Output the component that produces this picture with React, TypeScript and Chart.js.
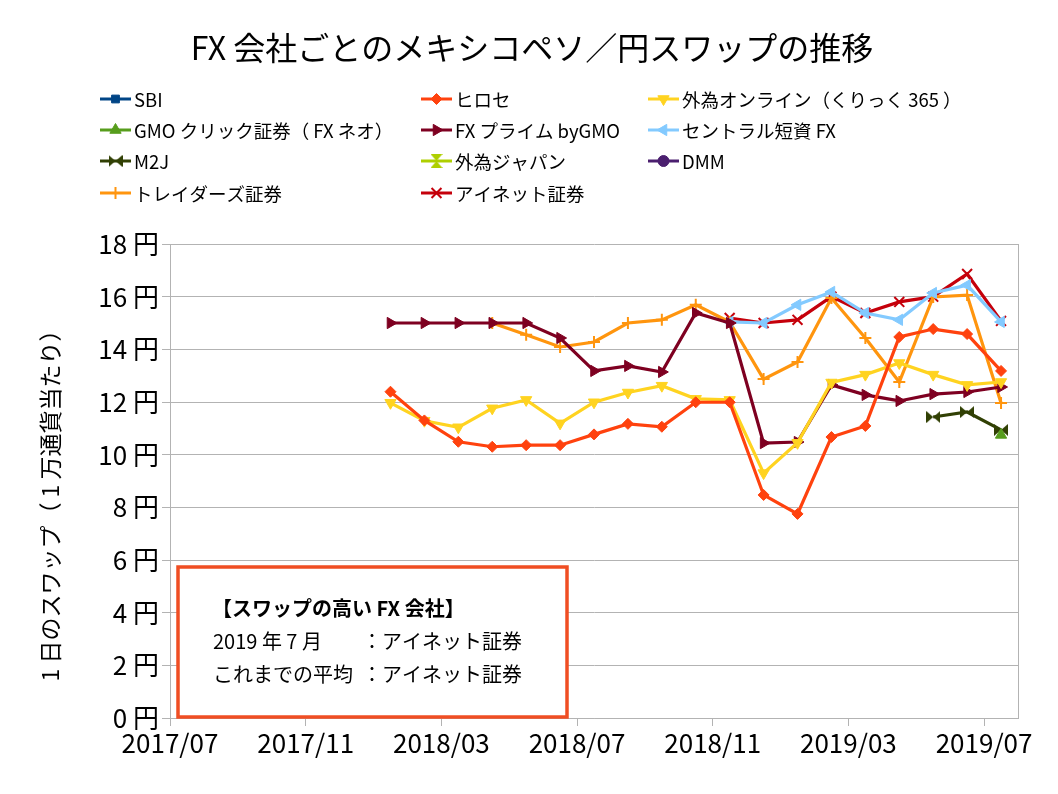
import { useEffect, useRef } from 'react';
import { Chart, registerables } from 'chart.js';
import { drawPoint } from 'chart.js/helpers';

Chart.register(...registerables);

// months with data (points sit mid-month)
const months = [
  '2018/01', '2018/02', '2018/03', '2018/04', '2018/05', '2018/06', '2018/07', '2018/08', '2018/09', '2018/10',
  '2018/11', '2018/12', '2019/01', '2019/02', '2019/03', '2019/04', '2019/05', '2019/06', '2019/07',
];
const tickLabels = ['2017/07', '2017/11', '2018/03', '2018/07', '2018/11', '2019/03', '2019/07'];
const yTicks = [0, 2, 4, 6, 8, 10, 12, 14, 16, 18];

const sbi: (number | null)[] = [];
const hirose = [12.39, 11.3, 10.49, 10.3, 10.36, 10.36, 10.77, 11.17, 11.06, 11.99, 11.99, 8.47, 7.75, 10.67, 11.09, 14.47, 14.77, 14.58, 13.18];
const gaitameOnline = [11.97, 11.29, 11.04, 11.76, 12.08, 11.19, 11.99, 12.36, 12.62, 12.12, 12.08, 9.3, 10.45, 12.74, 13.04, 13.48, 13.04, 12.65, 12.76];
const gmoClick = [null, null, null, null, null, null, null, null, null, null, null, null, null, null, null, null, null, null, 10.75];
const fxPrime = [15.0, 15.0, 15.0, 15.0, 15.0, 14.43, 13.18, 13.37, 13.14, 15.38, 15.0, 10.44, 10.48, 12.65, 12.27, 12.04, 12.3, 12.38, 12.57];
const central = [null, null, null, null, null, null, null, null, null, null, 15.04, 15.0, 15.69, 16.18, 15.38, 15.12, 16.14, 16.44, 15.04];
const m2j = [null, null, null, null, null, null, null, null, null, null, null, null, null, null, null, null, 11.43, 11.62, 10.94];
const gaitameJapan: (number | null)[] = [];
const dmm: (number | null)[] = [];
const traders = [null, null, null, 15.0, 14.55, 14.09, 14.28, 15.0, 15.12, 15.69, 15.04, 12.87, 13.52, 15.95, 14.43, 12.76, 15.99, 16.06, 11.96];
const inet = [null, null, null, null, null, null, null, null, null, null, 15.19, 15.0, 15.12, 16.0, 15.38, 15.8, 16.0, 16.86, 15.08];

const FONT = '"Noto Sans CJK JP", "Noto Sans", sans-serif';

function monthIndex(label: string) {
  const [y, m] = label.split('/').map(Number);
  return (y - 2017) * 12 + (m - 7);
}

function toPoints(values: (number | null)[]) {
  return months.map((m, i) => ({ x: monthIndex(m) + 0.5, y: values[i] ?? null }));
}

function bowtie(color: string) {
  const c = document.createElement('canvas');
  c.width = 14;
  c.height = 12;
  const g = c.getContext('2d')!;
  g.fillStyle = color;
  g.beginPath();
  g.moveTo(0, 0);
  g.lineTo(7, 6);
  g.lineTo(0, 12);
  g.closePath();
  g.moveTo(14, 0);
  g.lineTo(7, 6);
  g.lineTo(14, 12);
  g.closePath();
  g.fill();
  return c;
}

export default function App() {
  const chartRef = useRef<HTMLCanvasElement>(null);
  const chartInstance = useRef<Chart | null>(null);

  useEffect(() => {
    if (!chartRef.current) return;
    const ctx = chartRef.current.getContext('2d');
    if (!ctx) return;
    if (chartInstance.current) chartInstance.current.destroy();

    const series: any[] = [
      { label: 'SBI', data: sbi, color: '#004586', pointStyle: 'rect', rotation: 0, radius: 5.5 },
      { label: 'ヒロセ', data: hirose, color: '#FF420E', pointStyle: 'rectRot', rotation: 0, radius: 5.5 },
      { label: '外為オンライン（くりっく 365 ）', data: gaitameOnline, color: '#FFD320', pointStyle: 'triangle', rotation: 180, radius: 6.5 },
      { label: 'GMO クリック証券（ FX ネオ）', data: gmoClick, color: '#579D1C', pointStyle: 'triangle', rotation: 0, radius: 6.5 },
      { label: 'FX プライム byGMO', data: fxPrime, color: '#7E0021', pointStyle: 'triangle', rotation: 90, radius: 6.5 },
      { label: 'セントラル短資 FX', data: central, color: '#83CAFF', pointStyle: 'triangle', rotation: -90, radius: 6.5 },
      { label: 'M2J', data: m2j, color: '#314004', pointStyle: bowtie('#314004'), rotation: 0, radius: 6 },
      { label: '外為ジャパン', data: gaitameJapan, color: '#AECF00', pointStyle: bowtie('#AECF00'), rotation: 90, radius: 6 },
      { label: 'DMM', data: dmm, color: '#4B1F6F', pointStyle: 'circle', rotation: 0, radius: 5.5 },
      { label: 'トレイダーズ証券', data: traders, color: '#FF950E', pointStyle: 'cross', rotation: 0, radius: 6 },
      { label: 'アイネット証券', data: inet, color: '#C5000B', pointStyle: 'crossRot', rotation: 0, radius: 7 },
    ];

    const decorations = {
      id: 'decorations',
      afterDraw(chart: any) {
        const c = chart.ctx;
        const area = chart.chartArea;
        c.save();

        // title
        c.fillStyle = '#000';
        c.font = `32px ${FONT}`;
        c.textAlign = 'center';
        c.textBaseline = 'middle';
        c.fillText('FX 会社ごとのメキシコペソ／円スワップの推移', 532, 48);

        // legend grid, 3 columns
        const colX = [100, 421, 648];
        const rowY = [99, 130, 161, 193];
        c.font = `18.5px ${FONT}`;
        c.textAlign = 'left';
        series.forEach((s, i) => {
          const x = colX[i % 3];
          const y = rowY[Math.floor(i / 3)];
          c.strokeStyle = s.color;
          c.lineWidth = 3;
          c.beginPath();
          c.moveTo(x, y);
          c.lineTo(x + 31, y);
          c.stroke();
          c.fillStyle = s.color;
          c.lineWidth = s.pointStyle === 'cross' || s.pointStyle === 'crossRot' ? 2 : 1;
          drawPoint(c, { pointStyle: s.pointStyle, rotation: s.rotation, radius: s.radius, borderWidth: c.lineWidth }, x + 15.5, y);
          c.fillStyle = '#000';
          c.fillText(s.label, x + 34, y + 1);
        });

        // y axis title
        c.save();
        c.translate(50, 500);
        c.rotate(-Math.PI / 2);
        c.textAlign = 'center';
        c.font = `23px ${FONT}`;
        c.fillStyle = '#000';
        c.fillText('1 日のスワップ（ 1 万通貨当たり）', 0, 0);
        c.restore();

        // right frame line
        c.strokeStyle = '#b3b3b3';
        c.lineWidth = 1;
        c.beginPath();
        c.moveTo(Math.round(area.right) + 0.5, area.top);
        c.lineTo(Math.round(area.right) + 0.5, area.bottom);
        c.stroke();

        // note box
        c.fillStyle = '#fff';
        c.fillRect(178, 567, 389, 150);
        c.strokeStyle = '#F04E23';
        c.lineWidth = 3.5;
        c.strokeRect(178, 567, 389, 150);
        c.fillStyle = '#000';
        c.textAlign = 'left';
        c.font = `bold 20px ${FONT}`;
        c.fillText('【スワップの高い FX 会社】', 212, 608);
        c.font = `20px ${FONT}`;
        c.fillText('2019 年 7 月', 213, 641);
        c.fillText('：アイネット証券', 362, 641);
        c.fillText('これまでの平均', 213, 674);
        c.fillText('：アイネット証券', 362, 674);
        c.restore();
      },
    };

    chartInstance.current = new Chart(ctx, {
      type: 'line',
      data: {
        datasets: series.map((s) => ({
          label: s.label,
          data: toPoints(s.data),
          borderColor: s.color,
          backgroundColor: s.color,
          borderWidth: 3.2,
          pointStyle: s.pointStyle,
          pointRotation: s.rotation,
          pointRadius: s.radius,
          pointBorderWidth: s.pointStyle === 'cross' || s.pointStyle === 'crossRot' ? 2 : 1,
          pointBorderColor: s.color,
          pointBackgroundColor: s.color,
          tension: 0,
          spanGaps: false,
        })),
      },
      options: {
        animation: false,
        responsive: true,
        maintainAspectRatio: false,
        layout: { padding: { top: 244, left: 8, right: 40, bottom: 0 } },
        plugins: {
          legend: { display: false },
          title: { display: false },
          tooltip: { enabled: false },
        },
        scales: {
          x: {
            type: 'linear',
            min: 0,
            max: 25,
            afterBuildTicks: (scale: any) => {
              scale.ticks = tickLabels.map((l) => ({ value: monthIndex(l) }));
            },
            afterFit: (scale: any) => {
              scale.height = 76;
            },
            ticks: {
              color: '#000',
              font: { family: FONT, size: 26 },
              padding: 2,
              maxRotation: 0,
              autoSkip: false,
              callback: (v: any) => tickLabels.find((l) => monthIndex(l) === v) ?? '',
            },
            grid: { display: true, drawOnChartArea: false, drawTicks: true, tickLength: 8, color: '#b3b3b3' },
            border: { display: true, color: '#b3b3b3' },
          },
          y: {
            min: 0,
            max: 18,
            afterBuildTicks: (scale: any) => {
              scale.ticks = yTicks.map((v) => ({ value: v }));
            },
            afterFit: (scale: any) => {
              scale.width = 162;
            },
            ticks: {
              color: '#000',
              font: { family: FONT, size: 26 },
              padding: 3,
              callback: (v: any) => `${v} 円`,
            },
            grid: { color: '#b3b3b3', tickLength: 8 },
            border: { display: true, color: '#b3b3b3' },
          },
        },
      },
      plugins: [decorations],
    });

    return () => {
      if (chartInstance.current) {
        chartInstance.current.destroy();
        chartInstance.current = null;
      }
    };
  }, []);

  return (
    <div style={{ position: 'absolute', left: 0, top: 0, width: 1058, height: 794, background: '#fff' }}>
      <canvas ref={chartRef} />
    </div>
  );
}
